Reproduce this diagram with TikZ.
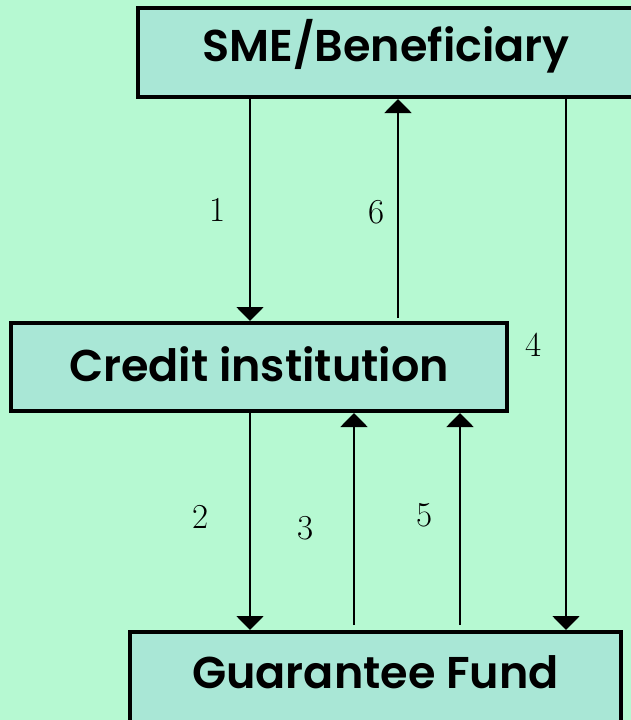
\documentclass[tikz,border=0pt]{standalone}
\usepackage{fontspec}
\newfontfamily\boxfont{Poppins}[BoldFont={Poppins SemiBold}]
\usetikzlibrary{arrows.meta}
\definecolor{bgmint}{RGB}{182,249,210}
\definecolor{boxmint}{RGB}{169,231,214}
\begin{document}
\begin{tikzpicture}[x=1pt,y=-1pt,
  box/.style={draw=black, fill=boxmint, line width=4pt, inner sep=0pt,
    font=\boxfont\bfseries\fontsize{44.5}{50}\selectfont, text height=33pt},
  flow/.style={line width=2pt, -{Triangle[width=27pt,length=14pt]}},
  num/.style={font=\fontsize{35}{40}\selectfont, inner sep=0pt}]
\useasboundingbox (0,0) rectangle (631,720);
\fill[bgmint] (0,0) rectangle (631,720);
\begin{scope}
  \clip (0,0) rectangle (631,720);
  \node[box, minimum width=496pt, minimum height=89pt, text depth=16pt] (sme) at (386,52.5) {SME/Beneficiary};
  \node[box, minimum width=496pt, minimum height=88pt, text depth=5pt] (ci) at (259,367) {Credit institution};
  \node[box, minimum width=491pt, minimum height=90pt, text depth=11pt] (gf) at (375.5,677) {Guarantee Fund};
\end{scope}
% flows between the parties
\draw[flow] (250,0 |- sme.south) -- (250,0 |- ci.north);
\draw[flow, shorten <=3pt] (398,0 |- ci.north) -- (398,0 |- sme.south);
\draw[flow] (566,0 |- sme.south) -- (566,0 |- gf.north);
\draw[flow] (250,0 |- ci.south) -- (250,0 |- gf.north);
\draw[flow, shorten <=5pt] (354,0 |- gf.north) -- (354,0 |- ci.south);
\draw[flow, shorten <=5pt] (460,0 |- gf.north) -- (460,0 |- ci.south);
% step numbers
\node[num] (n1) at (218,210) {1};
\node[num] (n6) at (377,212) {6};
\node[num] (n4) at (534,345) {4};
\node[num] (n2) at (201,517) {2};
\node[num] (n3) at (306,528) {3};
\node[num] (n5) at (425,515) {5};
\end{tikzpicture}
\end{document}
